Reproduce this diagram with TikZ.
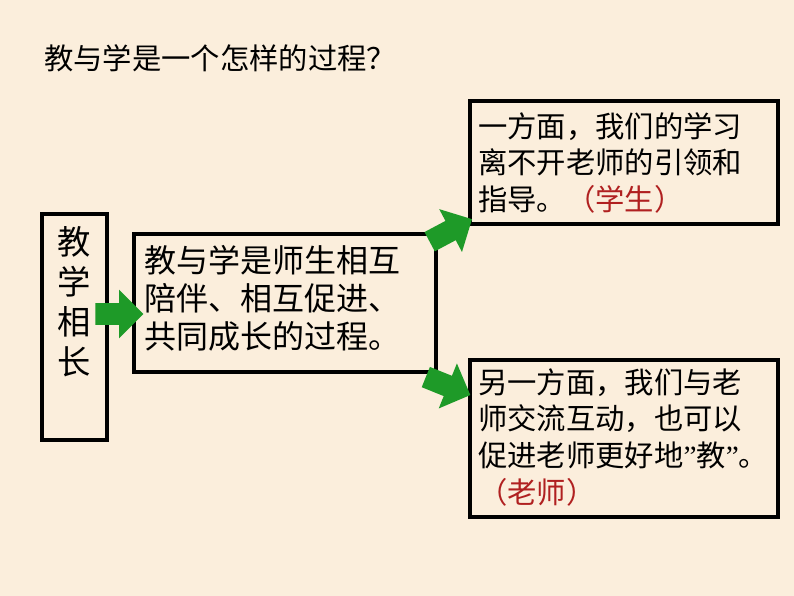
\documentclass[tikz,border=0pt]{standalone}
\usepackage{fontspec}
\newfontfamily\cjk{Noto Sans CJK SC}
\newfontfamily\lat{Liberation Serif}
\usetikzlibrary{shapes.arrows}
\definecolor{bg}{HTML}{FBEEDC}
\definecolor{grn}{HTML}{1E9A28}
\definecolor{red1}{HTML}{B02020}
\begin{document}
\begin{tikzpicture}[x=0.75pt,y=-0.75pt,
  frame/.style={draw=black,line width=3pt,fill=bg,inner sep=0pt},
  txt/.style={anchor=north west,align=left,inner sep=0pt,font=\cjk\fontsize{22}{27.5}\selectfont},
  garrow/.style={single arrow,fill=grn,draw=none,minimum height=36pt,inner xsep=0pt,
    inner ysep=8pt,single arrow head extend=10pt}]
  \fill[bg] (0,0) rectangle (794,596);
  \useasboundingbox (0,0) rectangle (794,596);
  \node[anchor=north west,inner sep=0pt,font=\cjk\fontsize{22}{24}\selectfont] (title) at (44,44) {教与学是一个怎样的过程？};
  % boxes
  \node[frame,minimum width=49pt,minimum height=169pt] (left) at (74.5,327) {};
  \node[frame,minimum width=226pt,minimum height=103pt] (mid) at (285,303) {};
  \node[frame,minimum width=231pt,minimum height=92pt] (top) at (624,162.5) {};
  \node[frame,minimum width=231pt,minimum height=118pt] (bot) at (624,438.5) {};
  % texts
  \node[anchor=north,inner sep=0pt,align=center,font=\cjk\fontsize{25}{30}\selectfont] (lefttxt) at (74,226) {教\\学\\相\\长};
  \node[txt,font=\cjk\fontsize{24}{28.5}\selectfont] (midtxt) at (144,245) {教与学是师生相互\\陪伴、相互促进、\\共同成长的过程。};
  \node[txt] (toptxt) at (478,112) {一方面，我们的学习\\离不开老师的引领和\\指导。\textcolor{red1}{（学生）}};
  \node[txt] (bottxt) at (478,368) {另一方面，我们与老\\师交流互动，也可以\\促进老师更好地{\lat ”}教{\lat ”}。\\\textcolor{red1}{（老师）}};
  % arrows
  \node[garrow] (a1) at (114,314) {};
  \node[garrow,rotate=28] (a2) at (446,233) {};
  \node[garrow,rotate=-22] (a3) at (443,384) {};
\end{tikzpicture}
\end{document}
